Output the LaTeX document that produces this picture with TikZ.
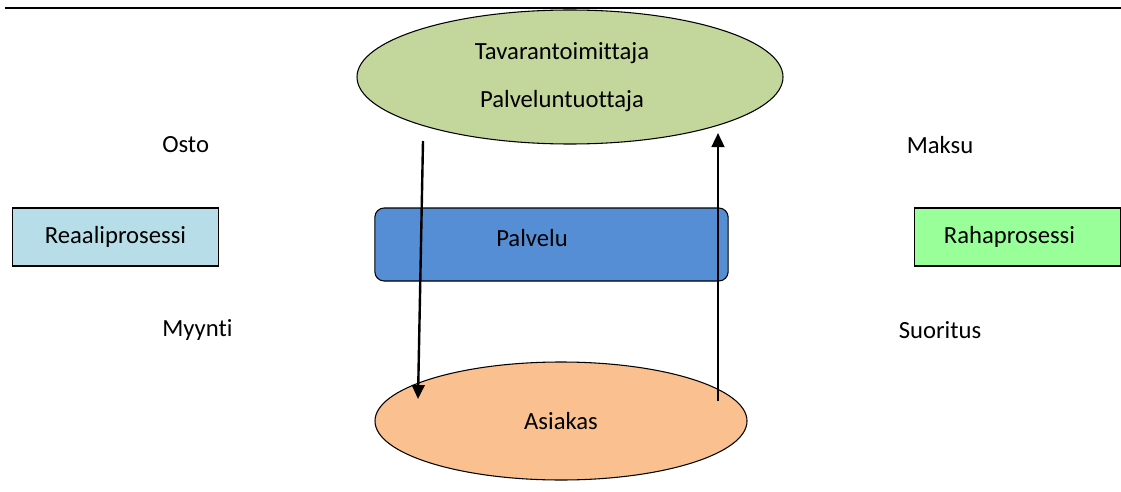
\documentclass[tikz,border=0pt]{standalone}
\usepackage{fontspec}
\setmainfont{Carlito}[Ligatures=NoCommon]
\usetikzlibrary{positioning,arrows.meta,shapes.geometric}
\definecolor{supplier}{HTML}{C3D69B}
\definecolor{customer}{HTML}{FAC090}
\definecolor{service}{HTML}{558ED5}
\definecolor{realbox}{HTML}{B7DEE8}
\definecolor{moneybox}{HTML}{99FF99}

\begin{document}
\begin{tikzpicture}[
  x=0.75pt, y=-0.75pt,
  font=\fontsize{18.5pt}{22pt}\selectfont,
  party/.style   = {ellipse, draw=black, line width=0.8pt, inner sep=0pt, align=center},
  process/.style = {draw=black, line width=0.8pt, inner sep=0pt,
                    minimum width=154pt, minimum height=43.5pt},
  flowlbl/.style = {inner sep=0pt},
  arr/.style     = {-{Triangle[length=10.5pt,width=9.5pt]}, line width=1.8pt},
]
\useasboundingbox (0,0) rectangle (1121,492);

% top rule
\draw[line width=1.6pt] (5,8) -- (1121,8);

\node[party, fill=supplier, minimum width=319.5pt, minimum height=100.5pt] (toimittaja) at (570,77)
  {\hspace*{-12pt}Tavarantoimittaja\\[14pt] \hspace*{-12pt}Palveluntuottaja};
\node[party, fill=customer, minimum width=279pt, minimum height=88.5pt] (asiakas) at (561,421)
  {Asiakas};

\node[process, fill=realbox] (reaali) at (115.5,237) {Reaaliprosessi};
\node[process, fill=moneybox] (raha) at (1017.5,237) {\hspace*{-12pt}Rahaprosessi};
\node[draw=black, line width=0.8pt, rounded corners=7pt, fill=service,
      minimum width=265pt, minimum height=54.75pt] (palvelu) at (551.5,244.5) {};
\node[flowlbl] (palvelutxt) at (532,238) {Palvelu};

\node[flowlbl, anchor=west] (osto) at (162,145) {Osto};
\node[flowlbl] (maksu) at (940,145) {Maksu};
\node[flowlbl, anchor=west] (myynti) at (162,330) {Myynti};
\node[flowlbl] (suoritus) at (940,330) {Suoritus};

% flows
\coordinate (ostoA) at (423,141);
\coordinate (ostoB) at (418,399);
\coordinate (maksuA) at (718,401);
\coordinate (maksuB) at (718,133);
\draw[arr] (ostoA) -- (ostoB);
\draw[arr] (maksuA) -- (maksuB);

\end{tikzpicture}
\end{document}
